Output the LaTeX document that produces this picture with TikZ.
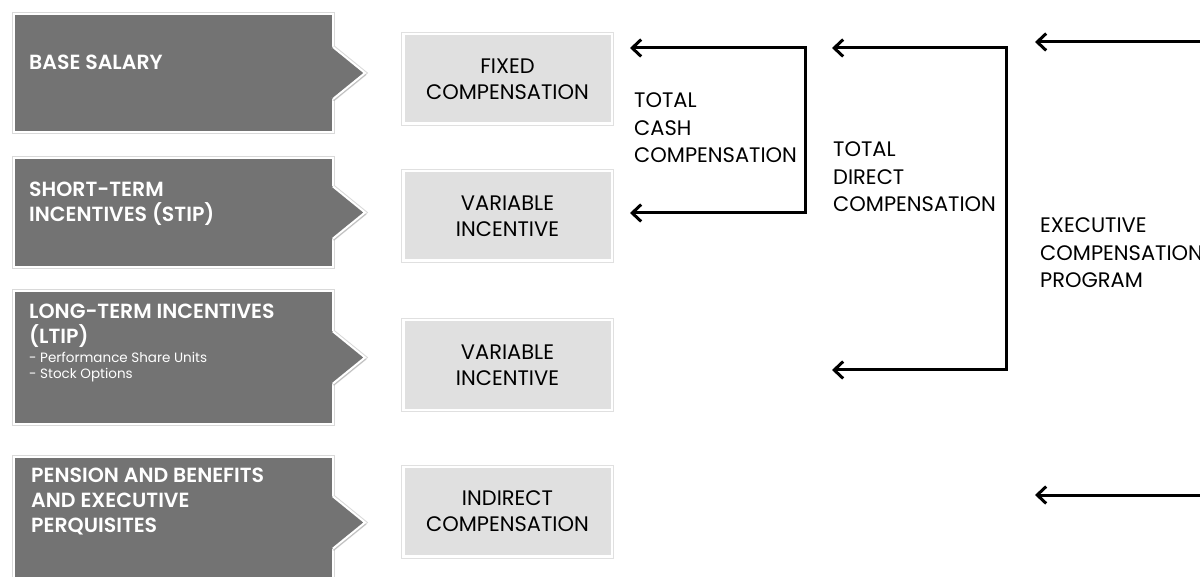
\documentclass[tikz,border=0pt]{standalone}
\usepackage{fontspec}
\setmainfont{Poppins}[BoldFont={Poppins SemiBold}]
\usetikzlibrary{positioning,shadows,arrows.meta}
\usepackage{xcolor}
\definecolor{boxdark}{HTML}{737373}
\definecolor{boxlight}{HTML}{E0E0E0}

\begin{document}
\begin{tikzpicture}[x=1pt,y=-1pt,
  darkbox/.style={rectangle,draw=white,line width=2pt,fill=boxdark,minimum width=319pt,
    drop shadow={shadow xshift=1pt,shadow yshift=-2pt,opacity=0.3},
    preaction={draw=black!15,line width=4pt}},
  darktip/.style={fill=boxdark,drop shadow={shadow xshift=1pt,shadow yshift=-2pt,opacity=0.3}},
  tipshade/.style={draw=black!15,line width=4pt},
  tipedge/.style={draw=white,line width=2pt},
  darktext/.style={text=white,align=left,inner sep=0pt,font=\bfseries\fontsize{20.5}{25}\selectfont},
  lightbox/.style={rectangle,draw=white,line width=2.5pt,fill=boxlight,minimum width=208.5pt,
    minimum height=89.5pt,align=center,font=\fontsize{21}{26}\selectfont,
    drop shadow={shadow xshift=1pt,shadow yshift=-2pt,opacity=0.3},
    preaction={draw=black!12,line width=4.5pt}},
  sumlabel/.style={align=left,inner sep=0pt,anchor=west,font=\fontsize{21}{27.5}\selectfont},
  conn/.style={draw=black,line width=3pt,{Straight Barb[length=9pt,width=17pt]}-{Straight Barb[length=9pt,width=17pt]}},
  oneway/.style={draw=black,line width=3pt,{Straight Barb[length=9pt,width=17pt]}-}
  ]

  \path[fill=white,use as bounding box] (0,0) rectangle (1200,577);

  % dark boxes on the left
  \node[darkbox,minimum height=118pt] (base) at (173.5,73) {};
  \node[darkbox,minimum height=109pt] (stip) at (173.5,212.5) {};
  \node[darkbox,minimum height=133pt] (ltip) at (173.5,357.5) {};
  \node[darkbox,minimum height=131pt] (pens) at (173.5,522.5) {};

  \draw[tipshade] (base.east) ++(-1,-26) -- ++(32,26) -- ++(-32,26);
  \fill[darktip] ([xshift=-2.5pt]base.east) ++(0,-26) -- ++(2,0) -- ++(32,26) -- ++(-32,26) -- ++(-2,0) -- cycle;
  \draw[tipedge] (base.east) ++(-1,-26) -- ++(32,26) -- ++(-32,26);
  \draw[tipshade] (stip.east) ++(-1,-26) -- ++(32,26) -- ++(-32,26);
  \fill[darktip] ([xshift=-2.5pt]stip.east) ++(0,-26) -- ++(2,0) -- ++(32,26) -- ++(-32,26) -- ++(-2,0) -- cycle;
  \draw[tipedge] (stip.east) ++(-1,-26) -- ++(32,26) -- ++(-32,26);
  \draw[tipshade] (ltip.east) ++(-1,-26) -- ++(32,26) -- ++(-32,26);
  \fill[darktip] ([xshift=-2.5pt]ltip.east) ++(0,-26) -- ++(2,0) -- ++(32,26) -- ++(-32,26) -- ++(-2,0) -- cycle;
  \draw[tipedge] (ltip.east) ++(-1,-26) -- ++(32,26) -- ++(-32,26);
  \draw[tipshade] (pens.east) ++(-1,-26) -- ++(32,26) -- ++(-32,26);
  \fill[darktip] ([xshift=-2.5pt]pens.east) ++(0,-26) -- ++(2,0) -- ++(32,26) -- ++(-32,26) -- ++(-2,0) -- cycle;
  \draw[tipedge] (pens.east) ++(-1,-26) -- ++(32,26) -- ++(-32,26);

  \node[darktext,anchor=west] (basetxt) at (29,62) {BASE SALARY};
  \node[darktext,anchor=west] (stiptxt) at (29,204) {SHORT-TERM\\INCENTIVES (STIP)};
  \node[darktext,anchor=north west] (ltiptxt) at (29,304) {LONG-TERM INCENTIVES\\(LTIP)\\[-6pt]{\mdseries\fontsize{13.5}{16}\selectfont - Performance Share Units}\\[-9pt]{\mdseries\fontsize{13.5}{16}\selectfont - Stock Options}};
  \node[darktext,anchor=west] (penstxt) at (31,502) {PENSION AND BENEFITS\\AND EXECUTIVE\\PERQUISITES};

  % light boxes
  \node[lightbox] (fixed) at (507.5,79) {FIXED\\COMPENSATION};
  \node[lightbox] (varone) at (507.5,216) {VARIABLE\\INCENTIVE};
  \node[lightbox] (vartwo) at (507.5,365) {VARIABLE\\INCENTIVE};
  \node[lightbox] (indir) at (507.5,511.5) {INDIRECT\\COMPENSATION};

  % brackets
  \coordinate (cash1) at (805,48);
  \coordinate (cash2) at (805,213);
  \coordinate (dir1) at (1006,48);
  \coordinate (dir2) at (1006,370);
  \coordinate (dirtop) at (832,48);
  \coordinate (dirbot) at (832,370);
  \coordinate (prog1) at (1200,42);
  \coordinate (prog2) at (1200,495);
  \coordinate (progtop) at (1035,42);
  \coordinate (progbot) at (1035,495);

  \draw[conn] ([xshift=17pt]fixed.east |- cash1) -- (cash1) -- (cash2) -- ([xshift=17pt]varone.east |- cash2);
  \draw[conn] (dirtop) -- (dir1) -- (dir2) -- (dirbot);
  \draw[oneway] (progtop) -- (prog1);
  \draw[oneway] (progbot) -- (prog2);

  \node[sumlabel] (cashlbl) at (634,128) {TOTAL\\CASH\\COMPENSATION};
  \node[sumlabel] (dirlbl) at (833,177) {TOTAL\\DIRECT\\COMPENSATION};
  \node[sumlabel] (proglbl) at (1040,253) {EXECUTIVE\\COMPENSATION\\PROGRAM};

\end{tikzpicture}
\end{document}
